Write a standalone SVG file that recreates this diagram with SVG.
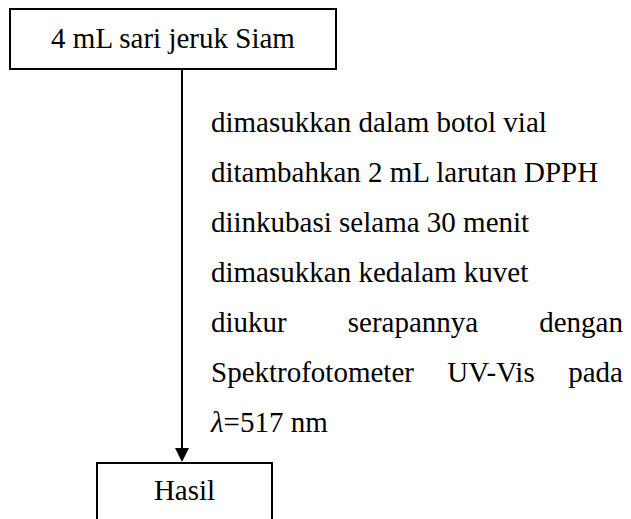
<svg xmlns="http://www.w3.org/2000/svg" width="631" height="519" viewBox="0 0 631 519">
<style>
.box{fill:#fff;stroke:#000;stroke-width:2}
.t{font-family:"Liberation Serif","Times New Roman",serif;font-size:29px;fill:#000}
.c{text-anchor:middle}
.e{text-anchor:end}
</style>
<rect width="631" height="519" fill="#fff"/>
<g id="connectors">
<line x1="182" y1="69" x2="182" y2="450" stroke="#000" stroke-width="2"/>
<polygon points="175,448 189,448 182,462" fill="#000"/>
</g>
<g id="node-start">
<rect class="box" x="10" y="9" width="326" height="60"/>
<text class="t c" x="173" y="48">4 mL sari jeruk Siam</text>
</g>
<g id="node-hasil">
<rect class="box" x="97" y="463" width="175" height="70"/>
<text class="t c" x="184.5" y="500">Hasil</text>
</g>
<g id="steps">
<text class="t" x="211" y="132">dimasukkan dalam botol vial</text>
<text class="t" x="211" y="182">ditambahkan 2 mL larutan DPPH</text>
<text class="t" x="211" y="232">diinkubasi selama 30 menit</text>
<text class="t" x="211" y="282">dimasukkan kedalam kuvet</text>
<text class="t" x="211" y="332">diukur</text>
<text class="t c" x="413" y="332">serapannya</text>
<text class="t e" x="623" y="332">dengan</text>
<text class="t" x="211" y="382">Spektrofotometer</text>
<text class="t c" x="491" y="382">UV-Vis</text>
<text class="t e" x="623" y="382">pada</text>
<text class="t" x="211" y="432"><tspan font-style="italic">λ</tspan>=517 nm</text>
</g>
</svg>
